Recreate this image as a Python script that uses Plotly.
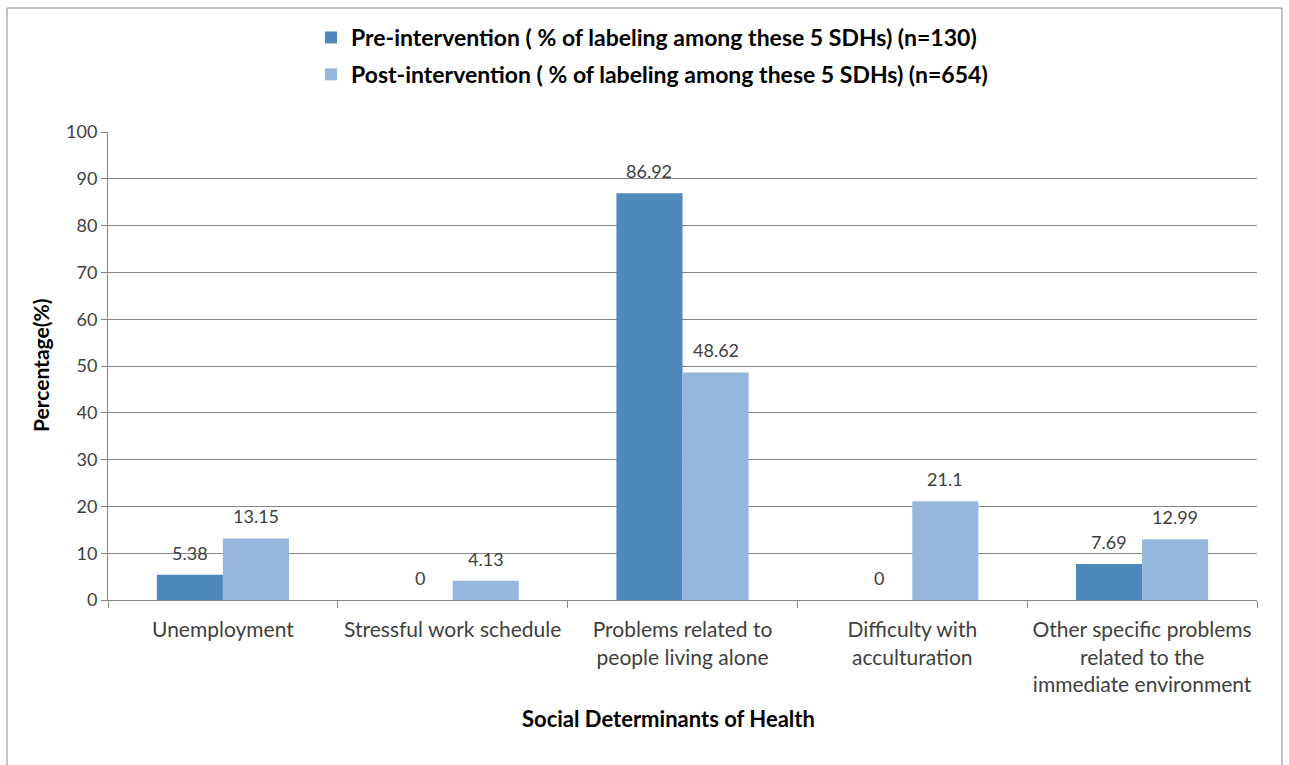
import plotly.graph_objects as go

categories = [
    "Unemployment",
    "Stressful work schedule",
    "Problems related to<br>people living alone",
    "Difficulty with<br>acculturation",
    "Other specific problems<br>related to the<br>immediate environment",
]
pre_values = [5.38, 0, 86.92, 0, 7.69]
post_values = [13.15, 4.13, 48.62, 21.1, 12.99]
pre_name = "Pre-intervention ( % of labeling among these 5 SDHs) (n=130)"
post_name = "Post-intervention ( % of labeling among these 5 SDHs) (n=654)"
y_ticks = [0, 10, 20, 30, 40, 50, 60, 70, 80, 90, 100]

FONT = "Lato, 'Open Sans', sans-serif"
PRE_COLOR = "#4F88BD"
POST_COLOR = "#95B7DE"
BARGAP = 0.425

L, R, T, B = 108, 32, 132, 165
W, H = 1289, 765
pw, ph = W - L - R, H - T - B


def px_x(p):
    return (p - L) / pw


def px_y(p):
    return (H - B - p) / ph


fig = go.Figure()
fig.add_trace(go.Bar(
    x=categories, y=pre_values, name=pre_name, legendgroup="a",
    marker=dict(color=PRE_COLOR, line=dict(width=0)),
))
fig.add_trace(go.Bar(
    x=categories, y=post_values, name=post_name, legendgroup="b",
    marker=dict(color=POST_COLOR, line=dict(width=0)),
))

# data labels above each bar
bar_w = pw / len(categories) * (1 - BARGAP) / 2
annotations = []
for vals, sign in ((pre_values, -1), (post_values, 1)):
    for c, v in zip(categories, vals):
        annotations.append(dict(
            x=c, y=v, xref="x", yref="y", text=f"{v:g}", showarrow=False,
            xshift=sign * bar_w / 2, yshift=9, yanchor="bottom",
            font=dict(size=18, color="#404040", family=FONT),
        ))

annotations.append(dict(
    x=px_x(668), y=px_y(718), xref="paper", yref="paper",
    text="<b>Social Determinants of Health</b>", showarrow=False,
    xanchor="center", yanchor="middle",
    font=dict(size=22, color="#000000", family=FONT),
))
annotations.append(dict(
    x=px_x(40), y=px_y(366), xref="paper", yref="paper",
    text="<b>Percentage(%)</b>", showarrow=False, textangle=-90,
    xanchor="center", yanchor="middle",
    font=dict(size=21, color="#000000", family=FONT),
))

fig.update_layout(
    width=W, height=H,
    margin=dict(l=L, r=R, t=T, b=B, autoexpand=False),
    paper_bgcolor="white", plot_bgcolor="white",
    barmode="group", bargap=BARGAP, bargroupgap=0,
    font=dict(family=FONT, size=16, color="#404040"),
    legend=dict(
        x=px_x(652), y=px_y(16), xanchor="center", yanchor="top",
        orientation="v", tracegroupgap=4,
        font=dict(size=23, color="#000000", family=FONT, weight="bold"),
        itemwidth=30, bgcolor="rgba(0,0,0,0)",
    ),
    xaxis=dict(
        showline=True, linecolor="#868686", linewidth=1,
        ticks="outside", tickson="boundaries", ticklen=7, tickcolor="#868686",
        tickfont=dict(size=21, color="#404040"), ticklabelstandoff=11,
    ),
    yaxis=dict(
        range=[0, 100], tickvals=y_ticks, showgrid=True, gridcolor="#868686", gridwidth=1,
        showline=True, linecolor="#868686", linewidth=1,
        ticks="outside", ticklen=6, tickcolor="#868686",
        tickfont=dict(size=18, color="#404040"),
        zeroline=False,
    ),
    annotations=annotations,
    shapes=[dict(
        type="rect", xref="paper", yref="paper",
        x0=px_x(7), x1=px_x(1282), y0=px_y(775), y1=px_y(8),
        line=dict(color="#868686", width=1), fillcolor="rgba(0,0,0,0)", layer="below",
    )],
)

fig.write_html("out.html")
